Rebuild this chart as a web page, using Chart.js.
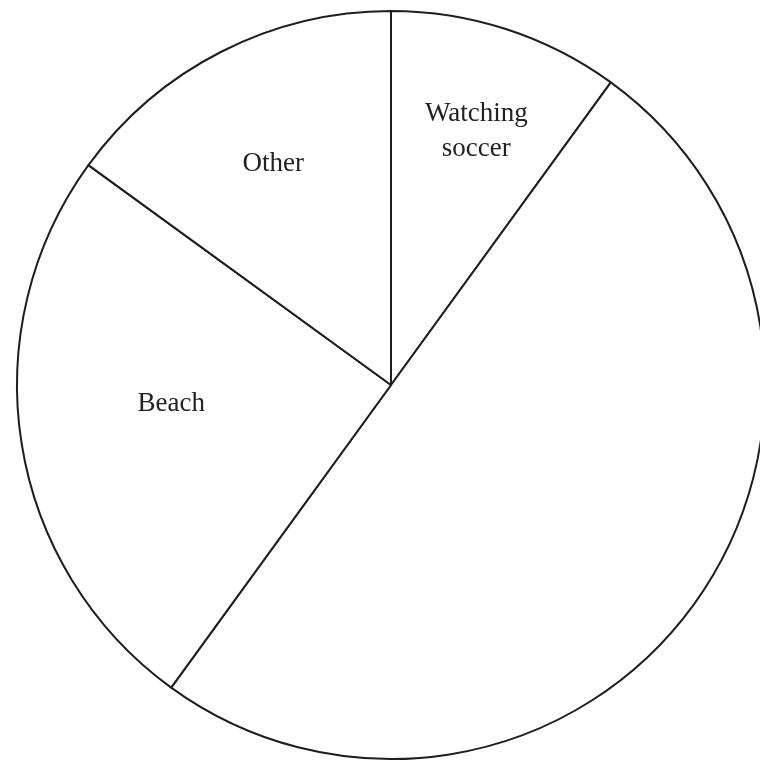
<!DOCTYPE html>
<html>
<head>
<meta charset="utf-8">
<script src="https://cdn.jsdelivr.net/npm/chart.js@4/dist/chart.umd.min.js"></script>
<style>
  html, body { margin: 0; padding: 0; background: #fff; overflow: hidden; }
  #wrap { position: absolute; left: 0; top: 0; width: 780px; height: 770px; }
</style>
</head>
<body>
<div id="wrap"><canvas id="c" width="780" height="770"></canvas></div>
<script>
// Data
const categories = ["Watching soccer", "", "Beach", "Other"];
const values = [10, 50, 25, 15];
// Label lines per slice (multi-line labels)
const labelLines = [["Watching", "soccer"], [], ["Beach"], ["Other"]];

const labelPlugin = {
  id: 'sliceLabels',
  afterDatasetsDraw(chart, args, opts) {
    const ctx = chart.ctx;
    const meta = chart.getDatasetMeta(0);
    ctx.save();
    ctx.fillStyle = opts.color;
    ctx.font = opts.font;
    ctx.textAlign = 'center';
    ctx.textBaseline = 'middle';
    meta.data.forEach((arc, i) => {
      const lines = labelLines[i];
      if (!lines || !lines.length) return;
      const p = arc.getProps(['x', 'y', 'startAngle', 'endAngle', 'outerRadius']);
      const mid = (p.startAngle + p.endAngle) / 2 + (opts.angleShift[i] || 0) * Math.PI / 180;
      const r = p.outerRadius * opts.radiusFrac[i];
      const cx = p.x + Math.cos(mid) * r;
      const cy = p.y + Math.sin(mid) * r;
      const lh = opts.lineHeight;
      const y0 = cy - (lines.length - 1) * lh / 2;
      lines.forEach((t, k) => ctx.fillText(t, cx, y0 + k * lh));
    });
    ctx.restore();
  }
};

new Chart(document.getElementById('c'), {
  type: 'pie',
  data: {
    labels: categories,
    datasets: [{
      data: values,
      backgroundColor: '#ffffff',
      borderColor: '#1e1e1e',
      borderWidth: 2
    }]
  },
  options: {
    responsive: false,
    animation: false,
    devicePixelRatio: 1,
    layout: { padding: { left: 16, right: 14, top: 10, bottom: 10 } },
    plugins: {
      legend: { display: false },
      tooltip: { enabled: false },
      sliceLabels: {
        color: '#222222',
        font: '27px "Liberation Serif", "Times New Roman", serif',
        lineHeight: 35,
        radiusFrac: [0.715, 0, 0.59, 0.67],
        angleShift: [0.6, 0, 4, -1]
      }
    }
  },
  plugins: [labelPlugin]
});
</script>
</body>
</html>
